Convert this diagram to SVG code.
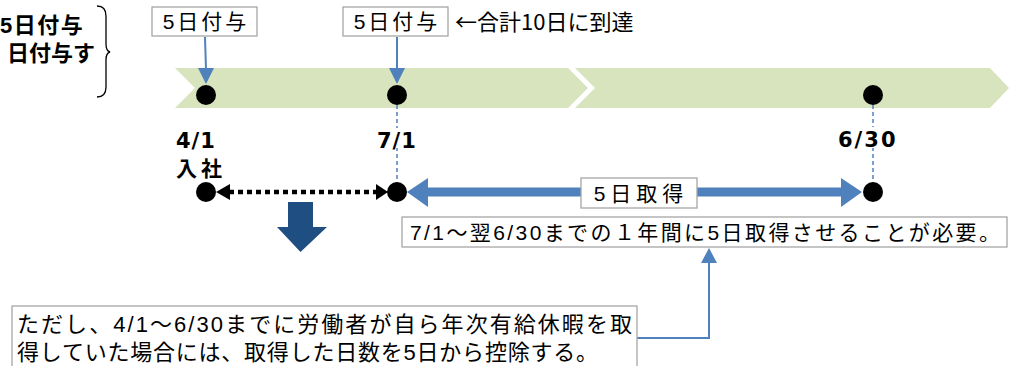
<svg xmlns="http://www.w3.org/2000/svg" width="1012" height="366" viewBox="0 0 1012 366">
<defs>
<style>
text{font-family:"Liberation Sans","Noto Sans CJK JP",sans-serif;fill:#000}
.t{font-size:21px}
.b{font-size:21px;font-weight:bold}
.d{font-family:"DejaVu Sans","Noto Sans CJK JP",sans-serif;font-size:21px;font-weight:bold}
.box{fill:#fff;stroke:#a6a6a6;stroke-width:1.3}
.band{fill:#d7e4bd}
.dot{fill:#000}
.dash{stroke:#4f81bd;stroke-width:1.5;stroke-dasharray:4 3;fill:none}
.blue{stroke:#4f81bd;fill:none}
.bf{fill:#4f81bd}
</style>
</defs>

<g id="band">
<polygon class="band" points="175,68 568,68 588,88 568,108 175,108 195,88"/>
<polygon class="band" points="575,68 990,68 1009,88 990,108 575,108 595,88"/>
</g>

<g id="left-note">
<text class="b" x="0" y="33" style="font-size:22px" letter-spacing="1.5">5日付与</text>
<text class="b" x="7" y="61" style="font-size:22px">日付与す</text>
<path d="M97,6 Q106,6 106,16 L106,44 Q106,51 110,52 Q106,53 106,60 L106,87 Q106,97 97,97" fill="none" stroke="#000" stroke-width="1.3"/>
</g>

<g id="connectors">
<line class="blue" x1="205" y1="37" x2="206" y2="70" stroke-width="2"/>
<polygon class="bf" points="198,68 214,68 206,84"/>
<line class="blue" x1="397" y1="37" x2="397" y2="70" stroke-width="2"/>
<polygon class="bf" points="389,68 405,68 397,84"/>
<line class="dash" x1="397" y1="105" x2="397" y2="183"/>
<line class="dash" x1="873" y1="105" x2="873" y2="183"/>
<line x1="229" y1="192" x2="378" y2="192" stroke="#000" stroke-width="4.5" stroke-dasharray="5 4"/>
<polygon points="216,192 230,184 230,200" fill="#000"/>
<polygon points="388,192 376,184 376,200" fill="#000"/>
<line x1="420" y1="192" x2="850" y2="192" stroke="#4f81bd" stroke-width="9"/>
<polygon class="bf" points="407,192 428,178 428,207"/>
<polygon class="bf" points="862,192 841,178 841,207"/>
<polyline class="blue" points="637,338 709,338 709,262" stroke-width="2"/>
<polygon class="bf" points="709,248 701,263 717,263"/>
<polygon points="288,202 313,202 313,227 327,227 300.5,252 277,227 288,227" fill="#1f4e82"/>
</g>

<g id="dots">
<circle class="dot" cx="206" cy="95" r="10"/>
<circle class="dot" cx="397" cy="95" r="10"/>
<circle class="dot" cx="873" cy="95" r="10"/>
<circle class="dot" cx="206" cy="192" r="10"/>
<circle class="dot" cx="397" cy="192" r="10"/>
<circle class="dot" cx="873" cy="192" r="10"/>
</g>

<g id="grant1">
<rect class="box" x="152" y="7" width="105" height="29"/>
<text class="t" x="206" y="29" text-anchor="middle" letter-spacing="3">5日付与</text>
</g>
<g id="grant2">
<rect class="box" x="343" y="7" width="105" height="29"/>
<text class="t" x="397" y="29" text-anchor="middle" letter-spacing="3">5日付与</text>
<text x="455" y="30" style="font-family:'Noto Sans CJK JP',sans-serif;font-size:22px">←合計10日に到達</text>
</g>

<g id="labels">
<text class="d" x="176" y="148" letter-spacing="1">4/1</text>
<text class="b" x="176" y="176" letter-spacing="4">入社</text>
<rect x="375" y="128" width="42" height="20" fill="#fff"/>
<text class="d" x="377" y="148" letter-spacing="1">7/1</text>
<rect x="836" y="127" width="64" height="21" fill="#fff"/>
<text class="d" x="838" y="147" letter-spacing="2">6/30</text>
</g>

<g id="take5">
<rect class="box" x="581" y="178" width="116" height="30"/>
<text class="t" x="641" y="201" text-anchor="middle" letter-spacing="5">5日取得</text>
</g>

<g id="required">
<rect class="box" x="402" y="217" width="605" height="30"/>
<text class="t" x="410" y="240" textLength="590" lengthAdjust="spacing">7/1～翌6/30までの１年間に5日取得させることが必要。</text>
</g>

<g id="note">
<rect class="box" x="12" y="306" width="625" height="80"/>
<text x="17" y="332" style="font-size:22px" textLength="615" lengthAdjust="spacing">ただし、4/1～6/30までに労働者が自ら年次有給休暇を取</text>
<text x="17" y="360" style="font-size:22px" textLength="581" lengthAdjust="spacing">得していた場合には、取得した日数を5日から控除する。</text>
</g>
</svg>
